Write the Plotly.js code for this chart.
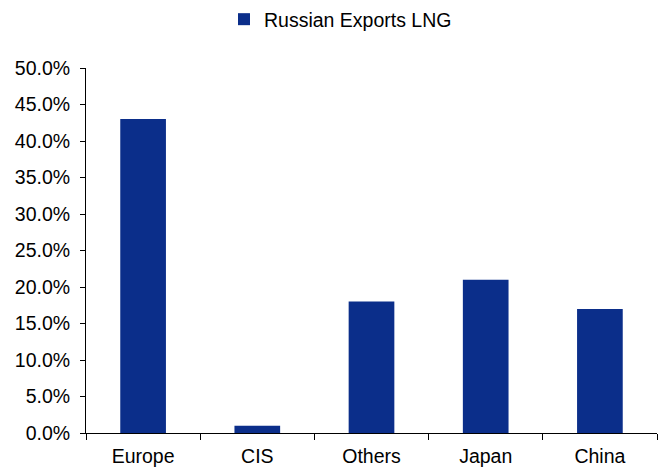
<!DOCTYPE html>
<html>
<head>
<meta charset="utf-8">
<script src="https://cdn.plot.ly/plotly-3.0.1.min.js"></script>
<style>html,body{margin:0;padding:0;background:#fff;}#chart{width:667px;height:468px;}</style>
</head>
<body>
<div id="chart"></div>
<script>
var categories = ["Europe", "CIS", "Others", "Japan", "China"];
var seriesName = "Russian Exports LNG";
var shares = [0.43, 0.01, 0.18, 0.21, 0.17];
var yTicks = [0, 0.05, 0.10, 0.15, 0.20, 0.25, 0.30, 0.35, 0.40, 0.45, 0.50];

var trace = {
  type: "bar",
  x: categories,
  y: shares,
  name: seriesName,
  marker: {color: "#0b2e8a"},
  width: 0.4,
  showlegend: true,
  hoverinfo: "x+y"
};

var layout = {
  width: 667,
  height: 468,
  margin: {l: 86, r: 10, t: 68, b: 35},
  paper_bgcolor: "#fff",
  plot_bgcolor: "#fff",
  font: {family: "Liberation Sans, Arial, sans-serif", size: 19.5, color: "#000"},
  showlegend: true,
  legend: {
    orientation: "h",
    xref: "container", yref: "container",
    x: 0.3358, xanchor: "left",
    y: 1.0, yanchor: "top",
    font: {size: 19.5},
    itemwidth: 30,
    bgcolor: "rgba(0,0,0,0)"
  },
  xaxis: {
    type: "category",
    showline: true,
    linecolor: "#000",
    linewidth: 1,
    ticks: "outside",
    tickson: "boundaries",
    ticklen: 6,
    tickcolor: "#000",
    ticklabelstandoff: 6,
    showgrid: false,
    zeroline: false,
    range: [-0.5, 4.5],
    automargin: false
  },
  yaxis: {
    range: [0, 0.5],
    tickvals: yTicks,
    tickformat: ".1%",
    showline: true,
    linecolor: "#000",
    linewidth: 1,
    ticks: "outside",
    ticklen: 5,
    tickcolor: "#000",
    ticklabelstandoff: 6,
    showgrid: false,
    zeroline: false,
    automargin: false
  },
  bargap: 0.6
};

Plotly.newPlot("chart", [trace], layout, {displayModeBar: false, staticPlot: true});
</script>
</body>
</html>
